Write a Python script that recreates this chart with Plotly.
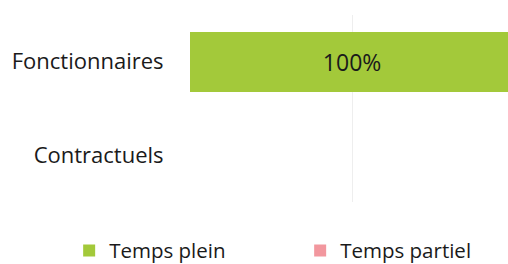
import plotly.graph_objects as go

categories = ["Fonctionnaires", "Contractuels"]
temps_plein = [1.0, None]
temps_partiel = [None, None]
series_names = ["Temps plein", "Temps partiel"]
colors = ["#a3c93a", "#f2979e"]

fig = go.Figure()
fig.add_trace(go.Bar(
    y=categories, x=temps_plein, name=series_names[0], orientation="h",
    marker=dict(color=colors[0], line=dict(width=0)),
    texttemplate="%{x:.0%}", textposition="inside", insidetextanchor="middle",
    textfont=dict(family="Open Sans", size=23, color="#1a1a1a"),
))
fig.add_trace(go.Bar(
    y=categories, x=temps_partiel, name=series_names[1], orientation="h",
    marker=dict(color=colors[1], line=dict(width=0)),
))

fig.update_layout(
    width=508, height=264,
    barmode="stack", bargap=0.355,
    paper_bgcolor="white", plot_bgcolor="white",
    margin=dict(l=190, r=0, t=15, b=62, autoexpand=False),
    font=dict(family="Open Sans", size=22, color="#1a1a1a"),
    showlegend=True,
    legend=dict(orientation="h", x=-0.38, xanchor="left", y=-0.26, yanchor="middle",
                traceorder="normal", font=dict(size=20.5), entrywidth=186,
                itemwidth=30, bgcolor="rgba(0,0,0,0)"),
    xaxis=dict(range=[0, 0.981], showticklabels=False, showgrid=True,
               gridcolor="#eeeeee", dtick=0.5, zeroline=False, automargin=False),
    yaxis=dict(autorange="reversed", ticks="outside", ticklen=21, tickcolor="rgba(0,0,0,0)",
               showgrid=False, zeroline=False, showline=False, automargin=False),
)

fig.write_html("out.html", config={"displayModeBar": False},
               post_script="document.body.style.margin='0';")
